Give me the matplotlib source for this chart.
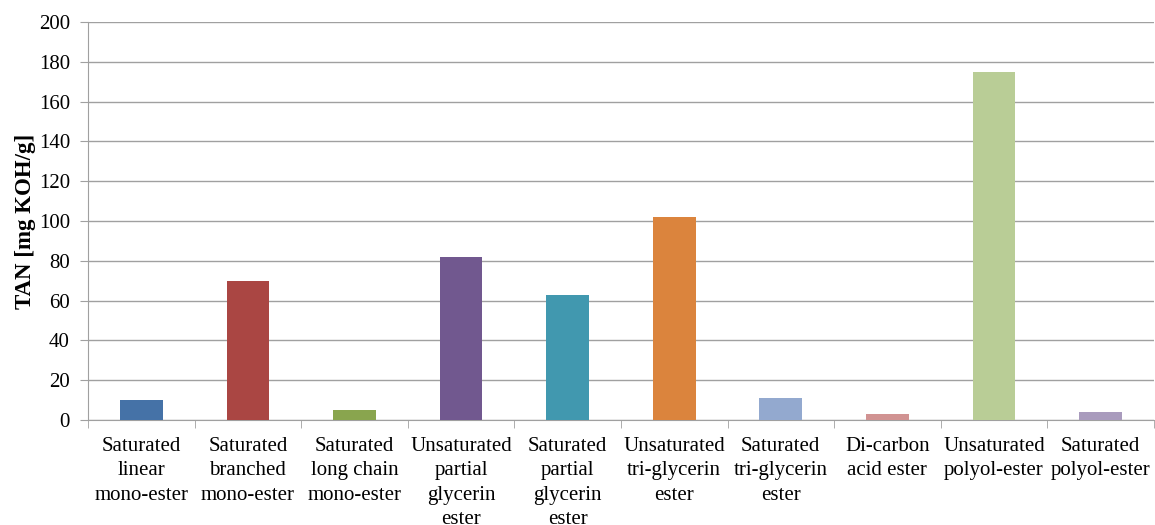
import matplotlib.pyplot as plt
import numpy as np

# categories and TAN values
categories = [
    'Saturated\nlinear\nmono-ester',
    'Saturated\nbranched\nmono-ester',
    'Saturated\nlong chain\nmono-ester',
    'Unsaturated\npartial\nglycerin\nester',
    'Saturated\npartial\nglycerin\nester',
    'Unsaturated\ntri-glycerin\nester',
    'Saturated\ntri-glycerin\nester',
    'Di-carbon\nacid ester',
    'Unsaturated\npolyol-ester',
    'Saturated\npolyol-ester',
]
tan_values = [10, 70, 5, 82, 63, 102, 11, 3, 175, 4]
bar_colors = ['#4572A7', '#AA4643', '#89A54E', '#71588F', '#4198AF',
              '#DB843D', '#93A9CF', '#D19392', '#B9CD96', '#A99BBD']

plt.rcParams['font.family'] = ['Liberation Serif', 'DejaVu Serif']

fig = plt.figure(figsize=(11.55, 5.25), dpi=100)
ax = fig.add_axes([0.0762, 0.2, 0.9228, 0.758])

x = np.arange(len(categories))
ax.bar(x, tan_values, width=0.4, color=bar_colors, zorder=3)

ax.set_xlim(-0.5, len(categories) - 0.5)
ax.set_ylim(0, 200)
ax.set_yticks(np.arange(0, 201, 20))
ax.yaxis.grid(True, color='#a0a0a0', linewidth=1, zorder=0)

ax.set_xticks(x)
ax.set_xticklabels(categories, fontsize=15, linespacing=1.4)
ax.set_xticks(np.arange(-0.5, len(categories), 1), minor=True)
ax.tick_params(axis='x', which='major', length=0, pad=12)
ax.tick_params(axis='x', which='minor', length=6, color='#a0a0a0')
ax.tick_params(axis='y', length=6, color='#a0a0a0', labelsize=15, pad=7)

for side in ['top', 'right']:
    ax.spines[side].set_visible(False)
for side in ['left', 'bottom']:
    ax.spines[side].set_color('#a0a0a0')

ax.set_ylabel('TAN [mg KOH/g]', fontsize=16.5, fontweight='bold', labelpad=2)

plt.savefig('out.png', dpi=100)
plt.close()
